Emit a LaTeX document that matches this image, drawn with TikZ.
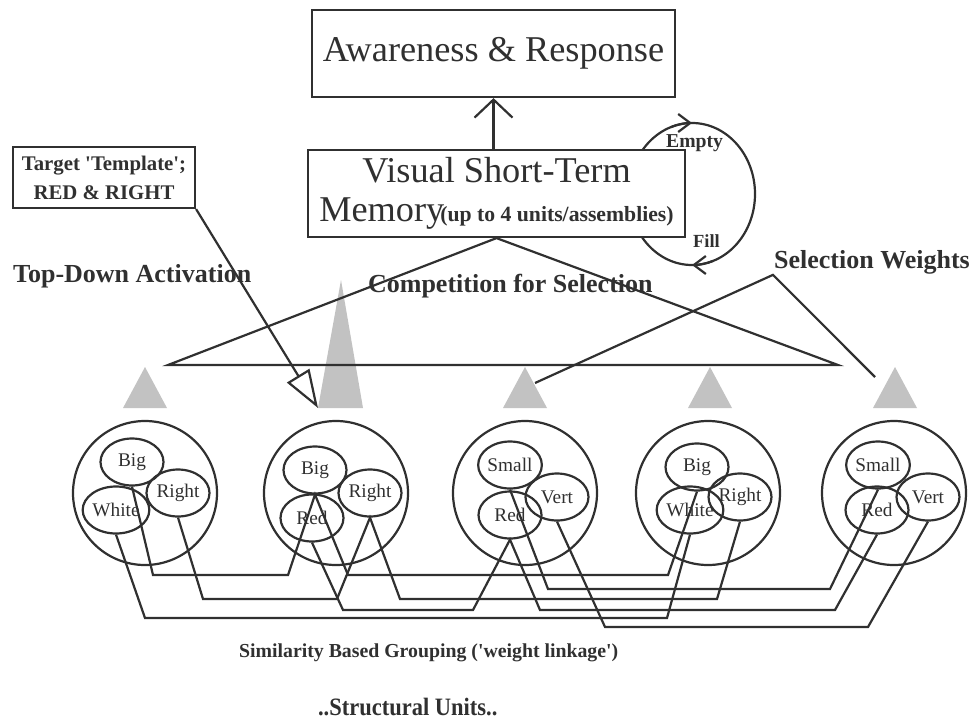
\documentclass[tikz,border=0pt]{standalone}
\usepackage{fontspec}
\setmainfont{Liberation Serif}
\usetikzlibrary{arrows.meta,shapes.geometric}

\definecolor{ink}{HTML}{303030}
\definecolor{dots}{HTML}{C2C2C2}
\newcommand{\fsz}[1]{\fontsize{#1}{#1}\selectfont}

\begin{document}
\begin{tikzpicture}[x=1pt,y=-1pt,line width=2.2pt,color=ink,unit/.style={circle,draw,minimum size=144pt,inner sep=0pt},feat/.style={ellipse,draw,minimum width=63pt,minimum height=47pt,inner sep=0pt,font=\fsz{19.3}},box/.style={rectangle,draw,fill=white,inner sep=0pt},lbl/.style={inner sep=0pt,anchor=base west,font=\fsz{26}\bfseries},peak/.style={fill=dots,draw=none},up/.style={-{Straight Barb[length=18pt,width=38pt]}},turn/.style={-{Straight Barb[length=12pt,width=18pt]}},cue/.style={-{Triangle[open,length=38pt,width=26pt]}}]
        \useasboundingbox (0,0) rectangle (976,723);

        % structural units
        \foreach \i/\x in {1/145,2/336,3/525,4/708,5/894}
            \node[unit] (u\i) at (\x,493) {};
        \foreach \n/\p/\t in {big1/{132,462}/Big,white1/{116,510}/White,right1/{178,493}/Right,
                big2/{315,470}/Big,red2/{312,518}/Red,right2/{370,493}/Right,
                small3/{510,465}/Small,red3/{510,515}/Red,vert3/{557,497}/Vert,
                big4/{697,467}/Big,white4/{690,510}/White,right4/{740,497}/Right,
                small5/{878,465}/Small,red5/{877,510}/Red,vert5/{928,497}/Vert}
            \node[feat] (\n) at (\p) {\t};

        % weight linkage
        \draw (big1.south) -- (153,575) -- (288,575) -- (big2.south) -- (348,575) -- (668,575) -- (big4.south);
        \draw (small3.south) -- (548,589) -- (830,589) -- (small5.south);
        \draw (right1.south) -- (203,599) -- (337,599) -- (right2.south) -- (400,599) -- (717,599) -- (right4.south);
        \draw (red2.south) -- (343,610) -- (473,610) -- (red3.south) -- (540,610) -- (835,610) -- (red5.south);
        \draw (white1.south) -- (145,618) -- (667,618) -- (white4.south);
        \draw (vert3.south) -- (605,627) -- (868,627) -- (vert5.south);

        % selection weights
        \foreach \x in {145,525,710,895}
            \fill[peak] (\x-22,408) -- (\x,367) -- (\x+22,408) -- cycle;
        \fill[peak] (318,408) -- (341,280) -- (363,408) -- cycle;

        % empty / fill loop
        \draw (692,194) ellipse [x radius=63,y radius=71];
        \draw[turn] (692,194) ++(250:63 and 71) arc[start angle=250,end angle=270,x radius=63,y radius=71];
        \draw[turn] (692,194) ++(70:63 and 71) arc[start angle=70,end angle=90,x radius=63,y radius=71];

        \node[box,minimum width=363pt,minimum height=87pt,font=\fsz{36.3}] (aware) at (493.5,53.5) {Awareness \& Response};
        \node[box,minimum width=377pt,minimum height=87pt,align=center,font=\fontsize{36.3}{39}\selectfont] (vstm) at (496.5,193.5)
            {Visual Short-Term\\Memory\hspace{-4pt}{\fsz{21.7}\bfseries(up to 4 units/assemblies)}};
        \node[box,minimum width=182pt,minimum height=61pt,align=center,font=\fontsize{20.8}{29}\selectfont\bfseries] (tmpl) at (104,177.5)
            {Target \textquotesingle Template\textquotesingle;\\RED \& RIGHT};

        \node[lbl,font=\fsz{19.7}\bfseries] (emptylbl) at (665,147) {Empty};
        \node[lbl,font=\fsz{18.5}\bfseries] (filllbl) at (692,247) {Fill};
        \node[lbl] (tda) at (12,282) {Top-Down Activation};
        \node[lbl] (cfs) at (367,292) {Competition for Selection};
        \node[lbl] (sw) at (773,268) {Selection Weights};
        \node[lbl,font=\fsz{19.8}\bfseries] (sim) at (238,657) {Similarity Based Grouping (\textquotesingle weight linkage\textquotesingle)};
        \node[lbl,font=\fsz{25}\bfseries\addfontfeatures{FakeStretch=0.9}] (su) at (317,715) {..Structural Units..};

        \coordinate (cl) at (168,365);
        \coordinate (cr) at (838,365);
        \coordinate (w3) at (535,383);
        \coordinate (w5) at (875,377);
        \coordinate (hit) at (318,408);

        \draw[up] (aware.south |- vstm.north) -- (aware.south);
        \draw (vstm.south) -- (cl) -- (cr) -- cycle;
        \draw (w3) -- (sw.south west) -- (w5);
        \draw[cue] (tmpl.south east) -- (hit);
    \end{tikzpicture}
\end{document}
